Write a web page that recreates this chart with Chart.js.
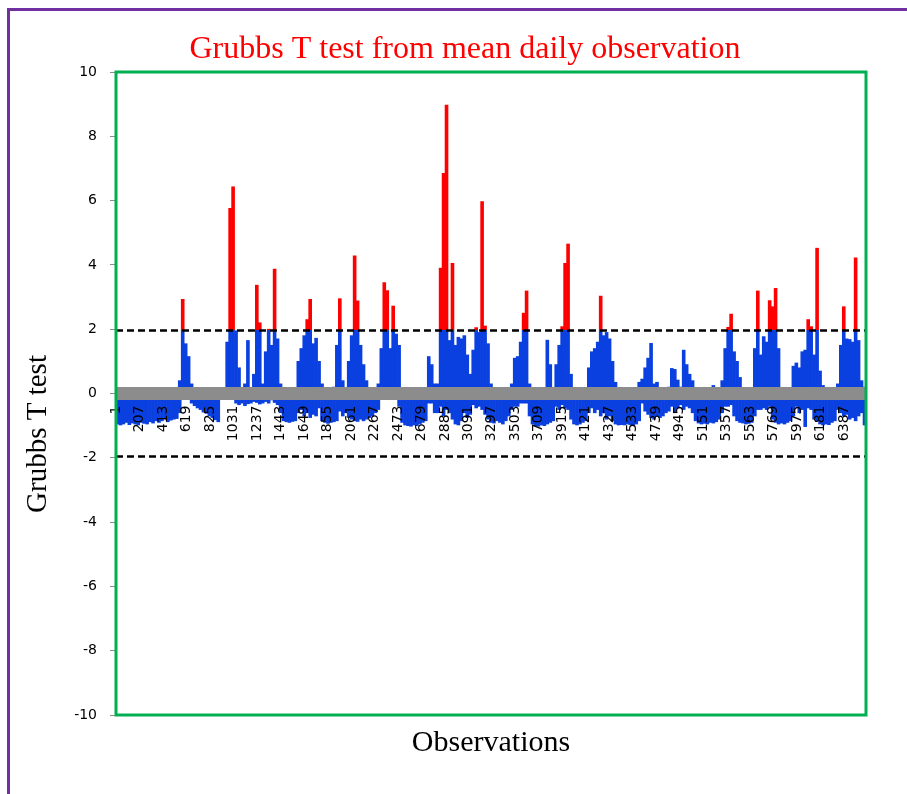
<!DOCTYPE html>
<html>
<head>
<meta charset="utf-8">
<script src="https://cdn.jsdelivr.net/npm/chart.js@4"></script>
<style>
  html, body { margin: 0; padding: 0; background: #fff; }
  #wrap { position: relative; width: 907px; height: 794px; overflow: hidden; }
  #frame { position: absolute; left: 7px; top: 8px; width: 1000px; height: 900px;
           border-left: 3px solid #7030a0; border-top: 3px solid #7030a0; }
  canvas { position: absolute; left: 0; top: 0; }
</style>
</head>
<body>
<div id="wrap">
  <div id="frame"></div>
  <canvas id="grubbsChart" width="907" height="794"></canvas>
</div>
<script>
// each bar = one block of 26 daily observations (highest and lowest T in the block)
const BIN_SIZE = 26;
const LIMIT = 1.96;

const obsHigh = [
  0, 0, 0, 0, 0, 0, 0, 0, 0, 0,
  0, 0, 0, 0, 0, 0, 0, 0, 0, 0,
  0, 0.4, 2.93, 1.55, 1.15, 0.3, 0, 0, 0, 0,
  0, 0, 0, 0, 0, 0, 0, 1.6, 5.76, 6.43,
  1.95, 0.8, 0, 0.3, 1.65, 0, 0.6, 3.37, 2.2, 0.3,
  1.3, 2.0, 1.5, 3.87, 1.7, 0.3, 0, 0, 0, 0,
  0, 1.0, 1.4, 1.8, 2.3, 2.93, 1.55, 1.72, 1.0, 0.3,
  0, 0, 0, 0.2, 1.5, 2.95, 0.4, 0, 1.0, 1.8,
  4.28, 2.88, 1.5, 0.9, 0.4, 0, 0, 0, 0.3, 1.4,
  3.45, 3.2, 1.4, 2.72, 1.85, 1.5, 0, 0, 0, 0,
  0, 0, 0, 0, 0, 1.15, 0.9, 0.3, 0.3, 3.9,
  6.85, 8.97, 1.65, 4.05, 1.5, 1.75, 1.7, 1.8, 1.2, 0.6,
  1.35, 2.05, 1.9, 5.97, 2.1, 1.55, 0.3, 0, 0, 0,
  0, 0, 0, 0.3, 1.1, 1.15, 1.6, 2.5, 3.19, 0.3,
  0, 0, 0, 0, 0, 1.66, 0.9, 0, 0.9, 1.5,
  2.08, 4.05, 4.65, 0.6, 0, 0, 0, 0, 0, 0.8,
  1.3, 1.4, 1.6, 3.03, 1.8, 1.9, 1.7, 1.0, 0.35, 0,
  0, 0, 0, 0, 0, 0, 0.35, 0.45, 0.8, 1.1,
  1.56, 0.3, 0.35, 0, 0, 0, 0.2, 0.78, 0.75, 0.42,
  0.2, 1.35, 0.9, 0.6, 0.4, 0, 0, 0, 0, 0,
  0, 0.25, 0, 0, 0.4, 1.4, 2.06, 2.47, 1.3, 1.0,
  0.5, 0, 0, 0, 0, 1.4, 3.19, 1.2, 1.77, 1.6,
  2.89, 2.7, 3.27, 1.4, 0, 0, 0, 0, 0.85, 0.95,
  0.8, 1.3, 1.35, 2.3, 2.08, 1.2, 4.52, 0.7, 0.25, 0,
  0, 0, 0, 0.3, 1.5, 2.7, 1.7, 1.68, 1.6, 4.22,
  1.65, 0.4, 0.2
];

const obsLow = [
  -0.95, -0.98, -0.95, -0.9, -0.97, -0.92, -0.95, -0.98, -0.9, -0.93,
  -0.95, -0.88, -0.92, -0.85, -0.9, -0.85, -0.8, -0.88, -0.83, -0.8,
  -0.78, -0.6, 0, 0, 0, -0.3, -0.38, -0.45, -0.5, -0.58,
  -0.62, -0.7, -0.75, -0.82, -0.88, 0, 0, 0, 0, 0,
  -0.3, -0.35, -0.3, -0.38, -0.32, -0.3, -0.25, -0.28, -0.33, -0.3,
  -0.25, -0.3, -0.2, -0.28, -0.35, -0.6, -0.85, -0.88, -0.9, -0.87,
  -0.85, -0.6, -0.5, -0.7, -0.6, -0.75, -0.65, -0.7, -0.45, -0.85,
  -0.9, -0.93, -0.9, -0.88, -0.85, -0.55, -0.7, -0.6, -0.75, -0.8,
  -0.85, -0.87, -0.8, -0.85, -0.8, -0.75, -0.7, -0.6, -0.5, 0,
  0, 0, 0, 0, 0, -0.4, -0.9, -0.98, -1.0, -1.02,
  -0.98, -1.0, -0.95, -0.9, -0.85, -0.3, -0.3, -0.6, -0.6, -0.4,
  -0.7, -0.5, -0.6, -0.8, -0.95, -0.98, -0.85, -0.6, -0.75, -0.65,
  -0.35, -0.45, -0.4, -0.5, -0.65, -0.8, -0.9, -0.92, -0.85, -0.9,
  -0.95, -0.85, -0.7, -0.5, -0.4, -0.4, -0.3, -0.3, -0.3, -0.7,
  -0.95, -1.0, -1.02, -0.98, -1.0, -0.95, -0.9, -0.85, -0.4, -0.5,
  -0.35, -0.45, -0.5, -0.8, -0.95, -0.98, -0.95, -0.9, -0.85, -0.6,
  -0.45, -0.6, -0.5, -0.7, -0.6, -0.8, -0.7, -0.85, -0.95, -0.98,
  -0.97, -0.98, -0.95, -0.97, -0.98, -0.95, -0.85, -0.3, -0.55, -0.65,
  -0.75, -0.8, -0.7, -0.75, -0.7, -0.6, -0.55, -0.4, -0.6, -0.45,
  -0.35, -0.5, -0.4, -0.45, -0.6, -0.85, -0.92, -0.95, -0.93, -0.95,
  -0.9, -0.92, -0.88, -0.8, -0.6, -0.4, -0.4, -0.35, -0.7, -0.85,
  -0.9, -0.92, -0.95, -0.93, -0.9, -0.7, -0.5, -0.5, -0.45, -0.5,
  -0.4, -0.8, -0.9, -0.95, -0.92, -0.95, -0.9, -0.85, -0.7, -0.4,
  -0.6, -0.5, -1.03, -0.45, -0.5, -0.8, -0.85, -0.95, -0.98, -0.95,
  -0.97, -0.9, -0.85, -0.5, -0.6, -0.7, -0.65, -0.8, -0.75, -0.85,
  -0.7, -0.6, -0.98
];

const tickObs = [1, 207, 413, 619, 825, 1031, 1237, 1443, 1649, 1855, 2061, 2267,
  2473, 2679, 2885, 3091, 3297, 3503, 3709, 3915, 4121, 4327, 4533, 4739,
  4945, 5151, 5357, 5563, 5769, 5975, 6181, 6387];

const CHART_TITLE = 'Grubbs T test from mean daily observation';
const X_TITLE = 'Observations';
const Y_TITLE = 'Grubbs T test';

const BLUE = '#0a3fe0';
const RED = '#ff0000';
const lastObs = obsHigh.length * BIN_SIZE;
const binMid = i => i * BIN_SIZE + BIN_SIZE / 2 + 0.5;

// red above the critical value, blue below
let fillCache = null;
function barFill(ctx) {
  const chart = ctx.chart;
  const area = chart.chartArea;
  if (!area) return BLUE;
  if (fillCache && fillCache.top === area.top && fillCache.bottom === area.bottom) return fillCache.g;
  const yPix = chart.scales.y.getPixelForValue(LIMIT);
  const t = (yPix - area.top) / (area.bottom - area.top);
  const g = chart.ctx.createLinearGradient(0, area.top, 0, area.bottom);
  g.addColorStop(0, RED);
  g.addColorStop(t, RED);
  g.addColorStop(t, BLUE);
  g.addColorStop(1, BLUE);
  fillCache = {top: area.top, bottom: area.bottom, g};
  return g;
}

const frameAndTitles = {
  id: 'frameAndTitles',
  afterDraw(chart) {
    const {ctx, chartArea: a} = chart;
    ctx.save();
    ctx.strokeStyle = '#00b050';
    ctx.lineWidth = 3;
    ctx.strokeRect(a.left, a.top, a.right - a.left, a.bottom - a.top);

    ctx.textAlign = 'center';
    ctx.textBaseline = 'alphabetic';
    ctx.fillStyle = RED;
    ctx.font = '32px "Liberation Serif"';
    ctx.fillText(CHART_TITLE, 465, 58);

    ctx.fillStyle = '#000';
    ctx.font = '30px "Liberation Serif"';
    ctx.fillText(X_TITLE, (a.left + a.right) / 2, a.bottom + 36);

    ctx.translate(38, 434);
    ctx.rotate(-Math.PI / 2);
    ctx.textBaseline = 'middle';
    ctx.font = '29px "Liberation Serif"';
    ctx.fillText(Y_TITLE, 0, 0);
    ctx.restore();
  }
};

const limitLine = v => ({
  type: 'line',
  data: [{x: 0.5, y: v}, {x: lastObs + 0.5, y: v}],
  borderColor: '#000',
  borderWidth: 2.5,
  borderDash: [7, 4],
  pointRadius: 0,
  order: 1
});

new Chart(document.getElementById('grubbsChart'), {
  type: 'bar',
  data: {
    datasets: [
      {
        label: 'Grubbs T (max)',
        data: obsHigh.map((v, i) => ({x: binMid(i), y: v})),
        backgroundColor: barFill,
        borderWidth: 0,
        barPercentage: 1,
        categoryPercentage: 1,
        grouped: false,
        order: 3
      },
      {
        label: 'Grubbs T (min)',
        data: obsLow.map((v, i) => ({x: binMid(i), y: v})),
        backgroundColor: barFill,
        borderWidth: 0,
        barPercentage: 1,
        categoryPercentage: 1,
        grouped: false,
        order: 3
      },
      {
        type: 'line',
        label: 'zero',
        data: [{x: 0.5, y: 0}, {x: lastObs + 0.5, y: 0}],
        borderColor: '#8c8c8c',
        borderWidth: 13,
        borderCapStyle: 'butt',
        pointRadius: 0,
        order: 0
      },
      limitLine(LIMIT),
      limitLine(-LIMIT)
    ]
  },
  options: {
    responsive: false,
    animation: false,
    devicePixelRatio: 1,
    layout: {padding: {top: 72, right: 41, bottom: 79, left: 0}},
    plugins: {legend: {display: false}, tooltip: {enabled: false}, title: {display: false}},
    scales: {
      x: {
        type: 'linear',
        min: 0.5,
        max: lastObs + 0.5,
        offset: false,
        position: {y: 0},
        afterBuildTicks(scale) {
          scale.ticks = tickObs.map(v => ({value: v}));
        },
        ticks: {
          z: 1,
          autoSkip: false,
          minRotation: 90,
          maxRotation: 90,
          padding: 12,
          color: '#000',
          font: {family: 'DejaVu Sans', size: 14},
          callback: v => String(v)
        },
        grid: {display: false, drawTicks: false},
        border: {display: false}
      },
      y: {
        min: -10,
        max: 10,
        afterFit(scale) { scale.width = 116; },
        ticks: {
          stepSize: 2,
          padding: 13,
          color: '#000',
          font: {family: 'DejaVu Sans', size: 14}
        },
        grid: {display: true, drawOnChartArea: false, drawTicks: true, tickLength: 6, color: '#8c8c8c'},
        border: {display: false}
      }
    }
  },
  plugins: [frameAndTitles]
});
</script>
</body>
</html>
